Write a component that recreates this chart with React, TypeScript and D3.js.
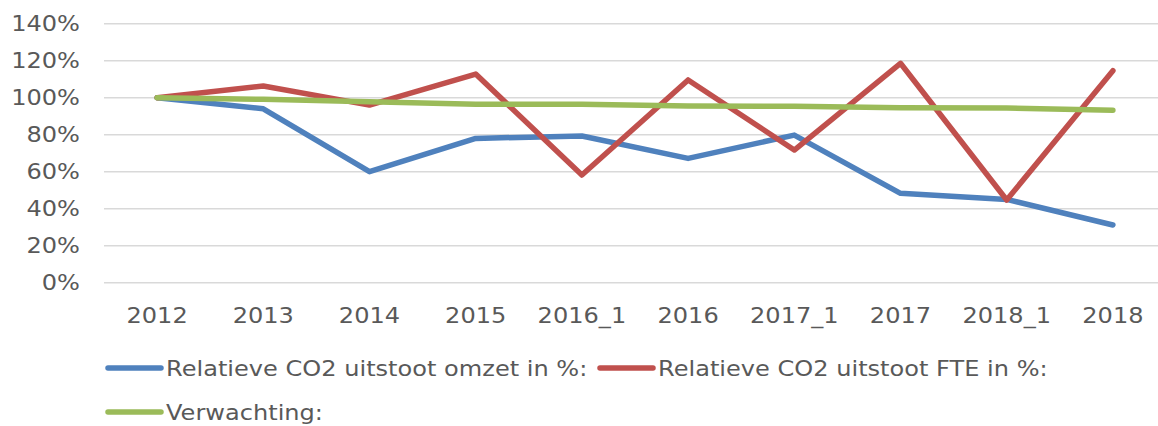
import React from 'react';
import * as d3 from 'd3';

const categories = ['2012', '2013', '2014', '2015', '2016_1', '2016', '2017_1', '2017', '2018_1', '2018'];
const omzet = [100, 94, 60, 78, 79.3, 67.2, 79.8, 48.3, 45, 31.2];
const fte = [100, 106.3, 96, 112.8, 58.2, 109.6, 71.7, 118.6, 44.7, 114.6];
const verwachting = [100, 99.1, 97.8, 96.4, 96.4, 95.5, 95.4, 94.6, 94.4, 93.2];
const yTicks = [0, 20, 40, 60, 80, 100, 120, 140];
const seriesNames = ['Relatieve CO2 uitstoot omzet in %:', 'Relatieve CO2 uitstoot FTE in %:', 'Verwachting:'];
const seriesColors = ['#4F81BD', '#C0504D', '#9BBB59'];

const W = 1158;
const H = 426;
const font = 'Verdana, "DejaVu Sans", sans-serif';
const fs = 21.5;
const sx = 1.12; // text in the original is a bit wider than DejaVu

// text helper, stretched horizontally around its anchor
const Label = ({ x, y, anchor = 'start', children }: any) => (
  <text
    transform={`translate(${x},${y}) scale(${sx},1)`}
    dy="0.35em"
    textAnchor={anchor}
    fill="#595959"
    fontFamily={font}
    fontSize={fs}
  >
    {children}
  </text>
);

export default function App() {
  // plot area
  const x = d3.scaleBand<string>().domain(categories).range([104, 1166]);
  const y = d3.scaleLinear().domain([0, 140]).range([282.7, 23.7]);
  const cx = (c: string) => (x(c) as number) + x.bandwidth() / 2;

  const line = d3
    .line<number>()
    .x((_, i) => cx(categories[i]))
    .y(d => y(d));

  const series = [omzet, fte, verwachting];

  // legend rows, as in the original layout
  const legend = [
    { x: 108, y: 368 },
    { x: 600, y: 368 },
    { x: 108, y: 412 },
  ];

  return (
    <div style={{ position: 'absolute', left: 0, top: 0 }}>
      <svg width={W} height={H} style={{ display: 'block', background: '#fff' }}>
        {yTicks.map(t => (
          <g key={t}>
            <line x1={104} x2={W} y1={y(t)} y2={y(t)} stroke="#D9D9D9" strokeWidth={1.5} />
            <Label x={80} y={y(t)} anchor="end">{t}%</Label>
          </g>
        ))}
        {categories.map(c => (
          <Label key={c} x={cx(c)} y={315} anchor="middle">{c}</Label>
        ))}
        {series.map((s, i) => (
          <path
            key={i}
            d={line(s) || ''}
            fill="none"
            stroke={seriesColors[i]}
            strokeWidth={5.5}
            strokeLinecap="round"
            strokeLinejoin="round"
          />
        ))}
        {legend.map((p, i) => (
          <g key={i}>
            <line x1={p.x} x2={p.x + 53} y1={p.y} y2={p.y} stroke={seriesColors[i]} strokeWidth={5.5} strokeLinecap="round" />
            <Label x={p.x + 58} y={p.y}>{seriesNames[i]}</Label>
          </g>
        ))}
      </svg>
    </div>
  );
}
